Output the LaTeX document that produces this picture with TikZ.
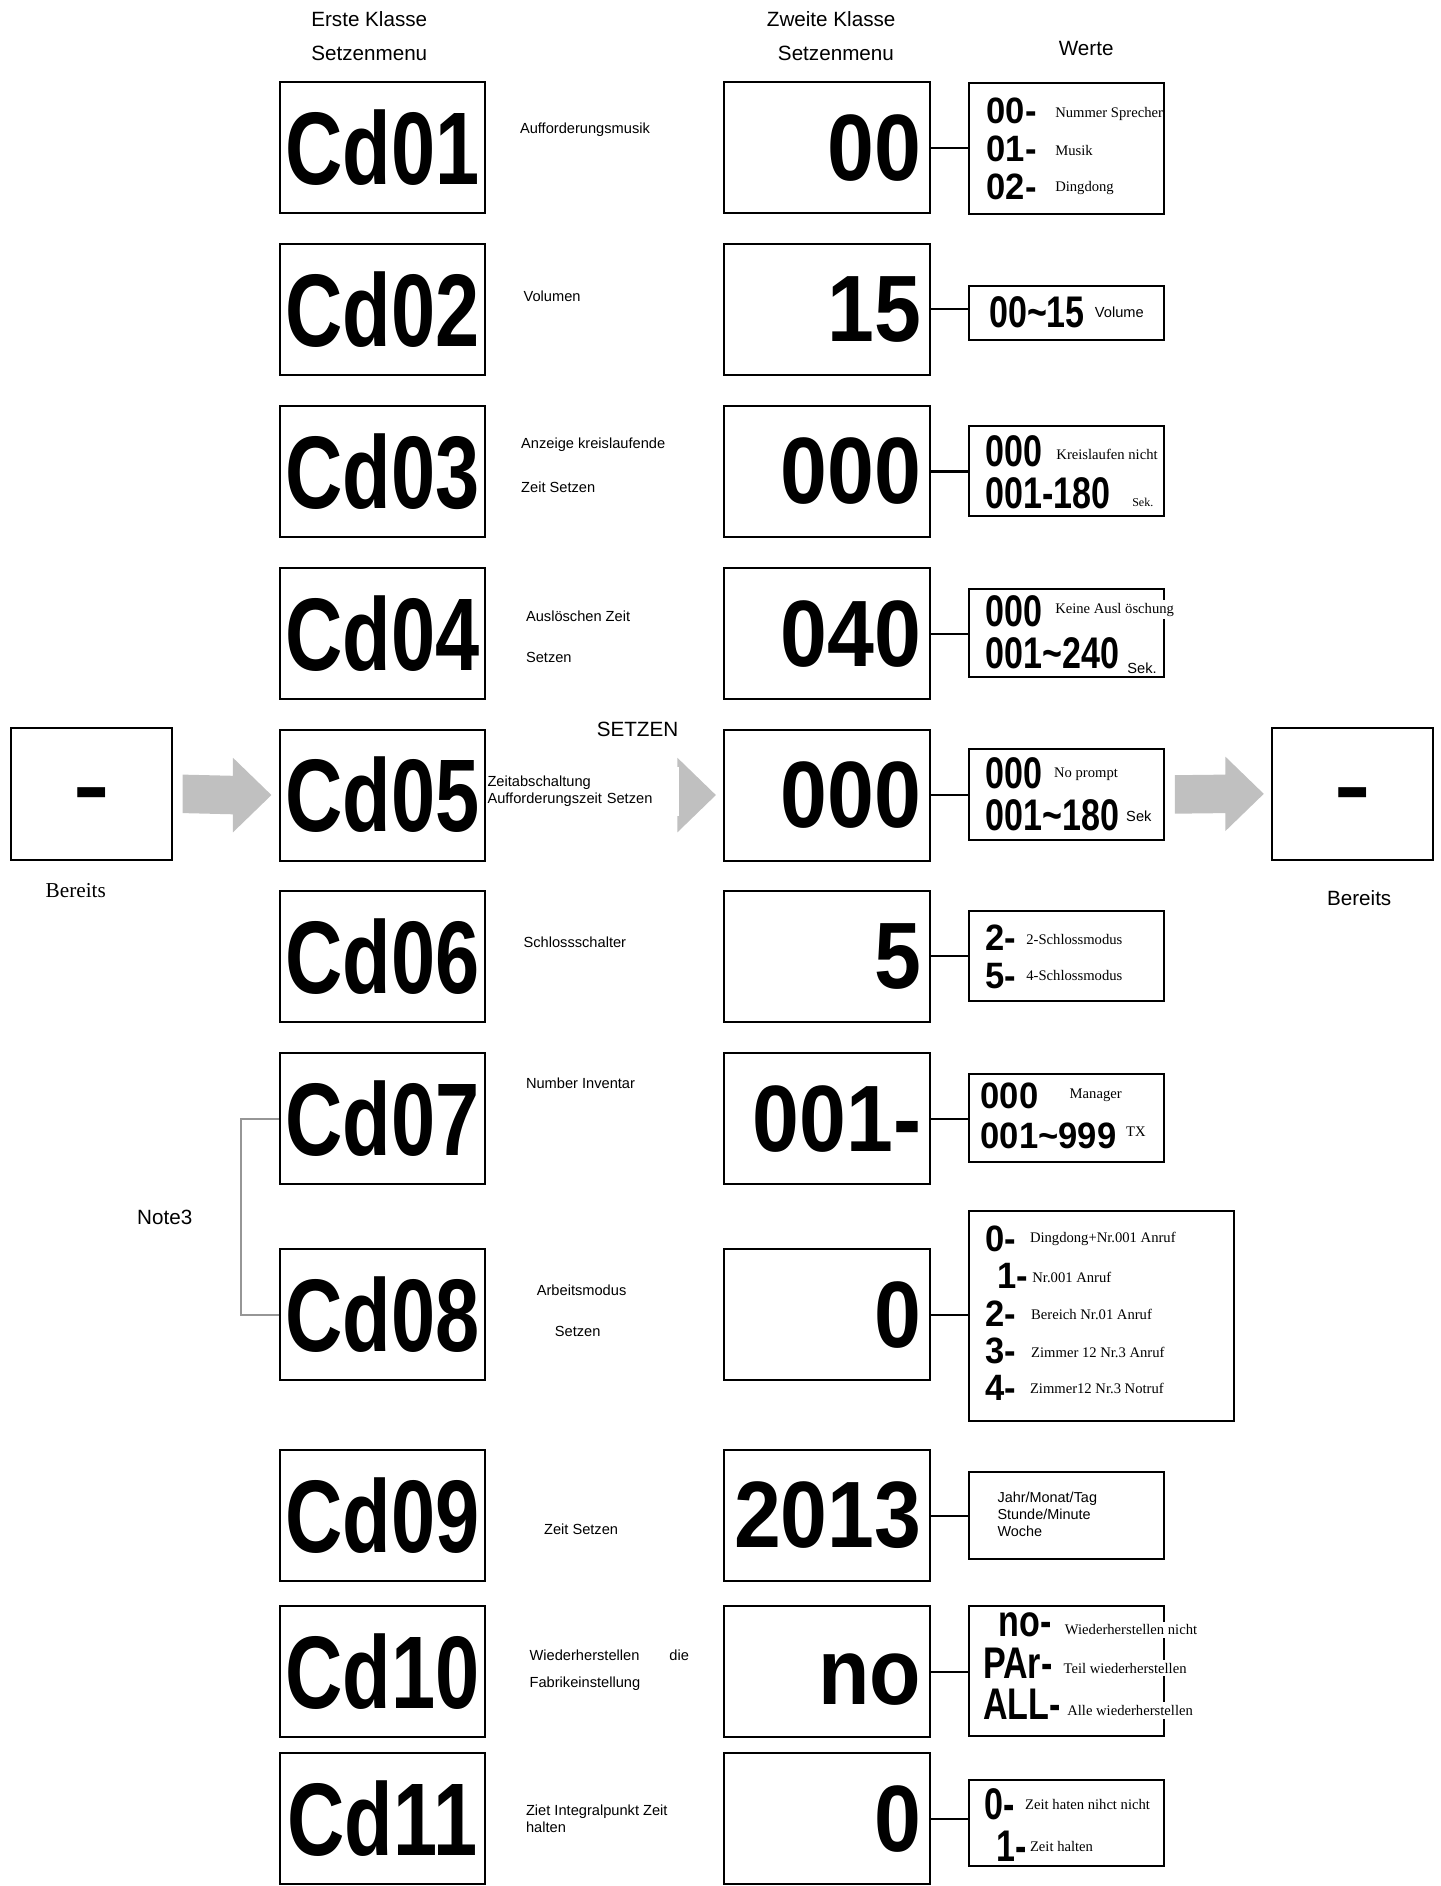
\documentclass[tikz,border=0pt]{standalone}
\usepackage{graphicx}
\usepackage{fontspec}
\setmainfont{Liberation Sans}
\newfontfamily\serifface{Liberation Serif}
\usetikzlibrary{calc}
\definecolor{arrowgray}{RGB}{192,192,192}
\definecolor{bracketgray}{RGB}{150,150,150}

% tall LCD-like digits
\newcommand{\seg}[2][1.3]{\scalebox{1}[#1]{#2}}
\newcommand{\segw}[1]{\scalebox{1.15}[1.22]{#1}}
\newcommand{\dashmark}{\raisebox{-0.25em}[0pt][0pt]{\scalebox{1.3}[1]{-}}}
% big gray arrow between two boxes
\newcommand{\bigarrow}[2]{%
  \fill[blockarrow] ($(#1.east)+(8,-16)$) -- ($(#2.west)+(-38,-16)$) -- ($(#2.west)+(-38,-31)$)
    -- ($(#2.west)+(-6,0)$) -- ($(#2.west)+(-38,31)$) -- ($(#2.west)+(-38,16)$)
    -- ($(#1.east)+(8,16)$) -- cycle;}

\begin{document}
\begin{tikzpicture}[
    x=0.6pt, y=-0.6pt,
    menubox/.style={draw, line width=1pt, minimum width=102.6pt, minimum height=65.4pt, inner sep=0pt, font=\fontsize{39.6}{40}\selectfont\bfseries},
    subbox/.style={draw, line width=1pt, minimum height=65.4pt, text width=94.2pt, inner xsep=4.2pt, inner ysep=0pt, align=right, font=\fontsize{42}{42}\selectfont\bfseries},
    valbox/.style={draw, line width=1pt, minimum width=97.2pt, inner sep=0pt},
    readybox/.style={draw, line width=1pt, minimum width=80.4pt, minimum height=66pt, inner sep=0pt, font=\fontsize{42}{42}\selectfont\bfseries},
    digits/.style={anchor=west, inner sep=0pt, align=left, font=\fontsize{17}{#1}\selectfont\bfseries},
    digits/.default=21pt,
    smalldigits/.style={anchor=west, inner sep=0pt, align=left, font=\fontsize{15}{#1}\selectfont\bfseries},
    desc/.style={anchor=west, inner sep=0pt, align=left, font=\fontsize{7.3}{8.6}\selectfont},
    vlabel/.style={anchor=west, inner xsep=0pt, inner ysep=1.5pt, fill=white, font=\serifface\fontsize{7.3}{9}\selectfont},
    head/.style={font=\fontsize{10.3}{12}\selectfont},
    link/.style={line width=1pt},
    notebracket/.style={line width=1pt, bracketgray},
    blockarrow/.style={fill=arrowgray}
]
\useasboundingbox (0,0) rectangle (1198,1568);

% Headers
\node[head] (head1a) at (307,16) {Erste Klasse};
\node[head] (head1b) at (307,44) {Setzenmenu};
\node[head] (head2a) at (691,16) {Zweite Klasse};
\node[head] (head2b) at (695,44) {Setzenmenu};
\node[head] (head3) at (903,40) {Werte};

% First class menu
\node[menubox] (cd01) at (318,123) {\seg{Cd01}};
\node[menubox] (cd02) at (318,257) {\seg{Cd02}};
\node[menubox] (cd03) at (318,392) {\seg{Cd03}};
\node[menubox] (cd04) at (318,527) {\seg{Cd04}};
\node[menubox] (cd05) at (318,661) {\seg{Cd05}};
\node[menubox] (cd06) at (318,795) {\seg{Cd06}};
\node[menubox] (cd07) at (318,930) {\seg{Cd07}};
\node[menubox] (cd08) at (318,1093) {\seg{Cd08}};
\node[menubox] (cd09) at (318,1260) {\seg{Cd09}};
\node[menubox] (cd10) at (318,1390) {\seg{Cd10}};
\node[menubox] (cd11) at (318,1512) {\seg{Cd11}};

% Descriptions
\node[desc] (txt01) at (432,108) {Aufforderungsmusik};
\node[desc] (txt02) at (435,246) {Volumen};
\node[desc] (txt03a) at (433,370) {Anzeige kreislaufende};
\node[desc] (txt03b) at (433,405) {Zeit Setzen};
\node[desc] (txt04a) at (437,512) {Auslöschen Zeit};
\node[desc] (txt04b) at (437,547) {Setzen};
\node[desc] (txt06) at (435,783) {Schlossschalter};
\node[desc] (txt07) at (437,901) {Number Inventar};
\node[desc] (txt08a) at (446,1073) {Arbeitsmodus};
\node[desc] (txt08b) at (461,1107) {Setzen};
\node[desc] (txt09) at (452,1271) {Zeit Setzen};
\node[desc] (txt10a) at (440,1376) {Wiederherstellen\hspace{15pt}die};
\node[desc] (txt10b) at (440,1400) {Fabrikeinstellung};
\node[desc] (txt11) at (437,1512) {Ziet Integralpunkt Zeit\\halten};

% Second class menu
\node[subbox] (sub01) at (687.5,123) {\seg[1.12]{00}};
\node[subbox] (sub02) at (687.5,257) {\seg[1.12]{15}};
\node[subbox] (sub03) at (687.5,392) {\seg[1.12]{000}};
\node[subbox] (sub04) at (687.5,527) {\seg[1.12]{040}};
\node[subbox] (sub05) at (687.5,661) {\seg[1.12]{000}};
\node[subbox] (sub06) at (687.5,795) {\seg[1.12]{5}};
\node[subbox] (sub07) at (687.5,930) {\seg[1.12]{001-}};
\node[subbox] (sub08) at (687.5,1093) {\seg[1.12]{0}};
\node[subbox] (sub09) at (687.5,1260) {\seg[1.12]{2013}};
\node[subbox] (sub10) at (687.5,1390) {\seg[1.12]{\vphantom{0}no}};
\node[subbox] (sub11) at (687.5,1512) {\seg[1.12]{0}};

% Value boxes
\node[valbox, minimum height=65.4pt] (val01) at (887,123.5) {};
\node[valbox, minimum height=27pt] (val02) at (887,260.5) {};
\node[valbox, minimum height=45pt] (val03) at (887,391.5) {};
\node[valbox, minimum height=43.8pt] (val04) at (887,526.5) {};
\node[valbox, minimum height=45pt] (val05) at (887,660.5) {};
\node[valbox, minimum height=45pt] (val06) at (887,794.5) {};
\node[valbox, minimum height=43.8pt] (val07) at (887,929.5) {};
\node[valbox, minimum width=132pt, minimum height=104.4pt] (val08) at (916,1094) {};
\node[valbox, minimum height=43.2pt] (val09) at (887,1260) {};
\node[valbox, minimum height=64.8pt] (val10) at (887,1389) {};
\node[valbox, minimum height=42.6pt] (val11) at (887,1515.5) {};

% Values
\node[smalldigits=18.9pt] (n01) at (820,123.5) {\segw{00-}\\\segw{01-}\\\segw{02-}};
\node[vlabel] (t01a) at (877,95) {Nummer Sprecher};
\node[vlabel] (t01b) at (877,125) {Musik};
\node[vlabel] (t01c) at (877,156) {Dingdong};

\node[digits] (n02) at (822,260) {\seg{00\textasciitilde15}};
\node[desc] (t02) at (910,260) {Volume};

\node[digits] (n03) at (819,392.5) {\seg{000}\\\seg{001-180}};
\node[vlabel] (t03a) at (878,378) {Kreislaufen nicht};
\node[vlabel, font=\serifface\fontsize{6}{7}\selectfont] (t03b) at (941,418) {Sek.};

\node[digits] (n04) at (819,525.5) {\seg{000}\\\seg{001\textasciitilde240}};
\node[vlabel] (t04a) at (877,507) {Keine Ausl öschung};
\node[desc] (t04b) at (937,556) {Sek.};

\node[digits] (n05) at (819,660.5) {\seg{000}\\\seg{001\textasciitilde180}};
\node[vlabel] (t05a) at (876,644) {No prompt};
\node[desc] (t05b) at (936,679) {Sek};

\node[smalldigits=18.6pt] (n06) at (819,795.5) {\segw{2-}\\\segw{5-}};
\node[vlabel] (t06a) at (853,781) {2-Schlossmodus};
\node[vlabel] (t06b) at (853,811) {4-Schlossmodus};

\node[smalldigits=19.8pt] (n07) at (815,927.5) {\segw{000}\\\segw{001\textasciitilde999}};
\node[vlabel] (t07a) at (889,911) {Manager};
\node[vlabel] (t07b) at (936,941) {TX};

\node[smalldigits=18.6pt] (n08) at (819,1092) {\segw{0-}\\\hspace{6pt}\segw{1-}\\\segw{2-}\\\segw{3-}\\\segw{4-}};
\node[vlabel] (t08a) at (856,1030) {Dingdong+Nr.001 Anruf};
\node[vlabel] (t08b) at (858,1062) {Nr.001 Anruf};
\node[vlabel] (t08c) at (857,1093) {Bereich Nr.01 Anruf};
\node[vlabel] (t08d) at (857,1124) {Zimmer 12 Nr.3 Anruf};
\node[vlabel] (t08e) at (856,1154) {Zimmer12 Nr.3 Notruf};

\node[desc, font=\fontsize{7.2}{8.4}\selectfont] (t09) at (829,1259) {Jahr/Monat/Tag\\Stunde/Minute\\Woche};

\node[digits=20.7pt] (n10) at (817,1385.5) {\hspace{7.8pt}\seg{no-}\\\seg{PAr-}\\\seg{ALL-}};
\node[vlabel] (t10a) at (885,1355) {Wiederherstellen nicht};
\node[vlabel] (t10b) at (884,1387) {Teil wiederherstellen};
\node[vlabel] (t10c) at (887,1422) {Alle wiederherstellen};

\node[digits] (n11) at (818,1517.5) {\seg{0-}\\\hspace{6pt}\seg{1-}};
\node[vlabel] (t11a) at (852,1500) {Zeit haten nihct nicht};
\node[vlabel] (t11b) at (856,1535) {Zeit halten};

% Ready states
\node[readybox] (readyL) at (76,660) {\dashmark};
\node[readybox] (readyR) at (1124.5,660) {\dashmark};
\node[font=\serifface\fontsize{10.6}{12}\selectfont] (bereitsL) at (63,740) {Bereits};
\node[head] (bereitsR) at (1130,747) {Bereits};
\node[head] (setzen) at (530,606) {SETZEN};
\node[head] (note3) at (137,1012) {Note3};

% Arrows
\bigarrow{readyL}{cd05}
\bigarrow{cd05}{sub05}
\bigarrow{val05}{readyR}
\node[desc, anchor=north west, fill=white, text width=95.4pt, minimum height=24.6pt] (txt05) at (405,637) {Zeitabschaltung\\Aufforderungszeit Setzen};

% Links
\draw[link] (sub01.east) -- (sub01.east -| val01.west);
\draw[link] (sub02.east) -- (sub02.east -| val02.west);
\draw[link] (sub03.east) -- (sub03.east -| val03.west);
\draw[link] (sub04.east) -- (sub04.east -| val04.west);
\draw[link] (sub05.east) -- (sub05.east -| val05.west);
\draw[link] (sub06.east) -- (sub06.east -| val06.west);
\draw[link] (sub07.east) -- (sub07.east -| val07.west);
\draw[link] (sub08.east) -- (sub08.east -| val08.west);
\draw[link] (sub09.east) -- (sub09.east -| val09.west);
\draw[link] (sub10.east) -- (sub10.east -| val10.west);
\draw[link] (sub11.east) -- (sub11.east -| val11.west);

% Note3 bracket
\draw[notebracket] (cd07.west) -- ++(-31,0) |- (cd08.west);
\end{tikzpicture}
\end{document}
